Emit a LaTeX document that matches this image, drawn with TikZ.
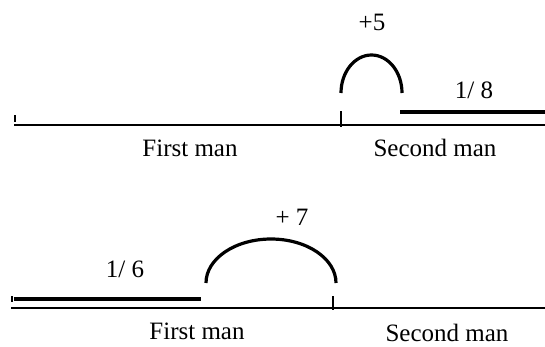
\documentclass[tikz,border=0pt]{standalone}
\usepackage{fontspec}
\setmainfont{Liberation Serif}
\usetikzlibrary{positioning, calc}
\tikzset{
	track/.style   ={line width=2pt},
	share/.style   ={line width=3.2pt},
	hop/.style     ={line width=3.2pt},
	tickmark/.style={line width=2.8pt},
	smalltick/.style={line width=1.6pt},
	lbl/.style     ={font=\fontsize{25}{28}\selectfont, inner sep=0pt},
}
\begin{document}
\begin{tikzpicture}[x=1pt, y=-1pt]
	\useasboundingbox (0,0) rectangle (545,346);
	% upper race
	\coordinate (u0) at (14,125);
	\coordinate (u1) at (545,125);
	\coordinate (uk) at (341,125);
	\coordinate (us) at (400,112);
	\coordinate (ue) at (545,112);
	\draw[track] (u0) -- (u1);
	\draw[smalltick] (15,115) -- (15,122);
	\draw[tickmark] ($(uk)+(0,-14)$) -- ($(uk)+(0,2)$);
	\draw[hop] (341,93) arc[start angle=180, end angle=360, x radius=30.5, y radius=38];
	\draw[share] (us) -- (ue);
	\node[lbl] (plusfive) at (372,22) {+5};
	\node[lbl] (eighth) at (474,90) {1/ 8};
	\node[lbl] (firstu) at (190,148) {First man};
	\node[lbl] (secondu) at (435,148) {Second man};
	% lower race
	\coordinate (l0) at (11,308);
	\coordinate (l1) at (545,308);
	\coordinate (lk) at (333,308);
	\coordinate (ls) at (14,299);
	\coordinate (le) at (201,299);
	\draw[track] (l0) -- (l1);
	\draw[smalltick] (12,296) -- (12,302);
	\draw[tickmark] ($(lk)+(0,-12)$) -- ($(lk)+(0,2)$);
	\draw[hop] (206,283) arc[start angle=180, end angle=360, x radius=65, y radius=44];
	\draw[share] (ls) -- (le);
	\node[lbl] (plusseven) at (292,217) {+ 7};
	\node[lbl] (sixth) at (125,269) {1/ 6};
	\node[lbl] (firstl) at (197,331) {First man};
	\node[lbl] (secondl) at (447,333) {Second man};
\end{tikzpicture}
\end{document}
